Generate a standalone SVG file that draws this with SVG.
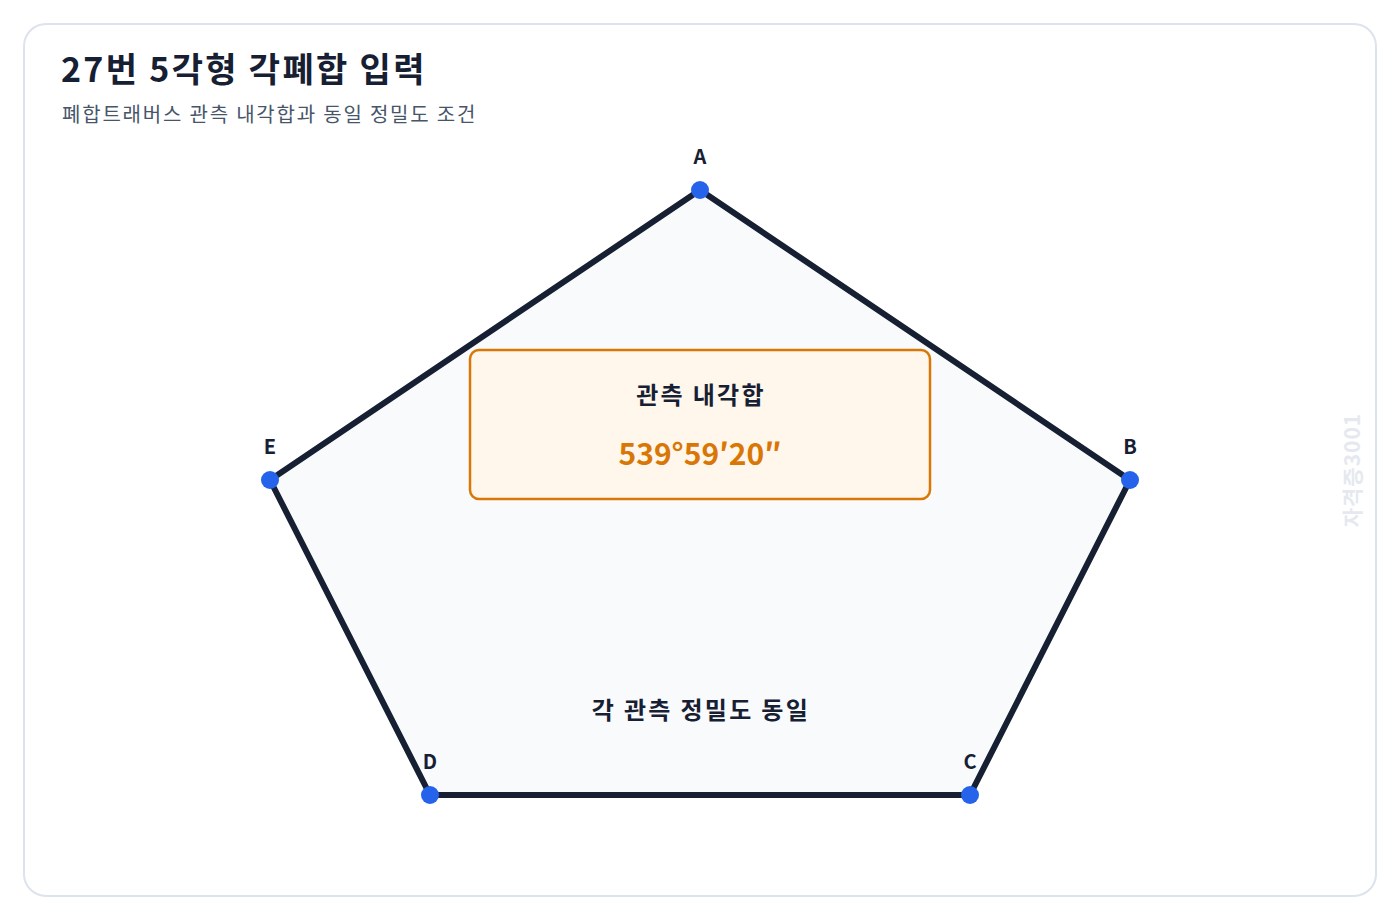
<svg xmlns="http://www.w3.org/2000/svg" width="1400" height="920" viewBox="0 0 1400 920">
<style>
text{font-family:"Noto Sans CJK KR","Noto Sans",sans-serif}
.t{font-size:34px;font-weight:700;fill:#172033;letter-spacing:2.3px}
.s{font-size:20px;fill:#475569;letter-spacing:1.8px}
.v{font-size:20px;font-weight:700;fill:#172033;text-anchor:middle}
.lb{font-size:24px;font-weight:700;fill:#172033;text-anchor:middle;letter-spacing:2.3px}
.pt{fill:#2563eb}
</style>
<rect x="0" y="0" width="1400" height="920" fill="#ffffff"/>
<rect x="24" y="24" width="1352" height="872" rx="22" fill="#ffffff" stroke="#dbe3ec" stroke-width="2"/>
<text class="t" x="61" y="82">27번 5각형 각폐합 입력</text>
<text class="s" x="62" y="122">폐합트래버스 관측 내각합과 동일 정밀도 조건</text>
<text x="1360" y="470" font-size="21" font-weight="700" fill="#e5e9ef" text-anchor="middle" letter-spacing="1" transform="rotate(-90 1360 470)">자격증3001</text>
<g id="connectors">
<polygon points="700,190 1130,480 970,795 430,795 270,480" fill="#f8fafc" stroke="#172033" stroke-width="6" stroke-linejoin="round"/>
</g>
<g id="box">
<rect x="470" y="350" width="460" height="149" rx="9" fill="#fff6ec" stroke="#d97706" stroke-width="2.5"/>
<text class="lb" x="701" y="404">관측 내각합</text>
<text x="700" y="465" font-size="30" font-weight="700" fill="#d97706" text-anchor="middle">539°59′20″</text>
</g>
<g id="note"><text class="lb" x="701" y="719">각 관측 정밀도 동일</text></g>
<g id="A"><circle class="pt" cx="700" cy="190" r="9"/><text class="v" x="700" y="164">A</text></g>
<g id="B"><circle class="pt" cx="1130" cy="480" r="9"/><text class="v" x="1130" y="454">B</text></g>
<g id="C"><circle class="pt" cx="970" cy="795" r="9"/><text class="v" x="970" y="769">C</text></g>
<g id="D"><circle class="pt" cx="430" cy="795" r="9"/><text class="v" x="430" y="769">D</text></g>
<g id="E"><circle class="pt" cx="270" cy="480" r="9"/><text class="v" x="270" y="454">E</text></g>
</svg>
